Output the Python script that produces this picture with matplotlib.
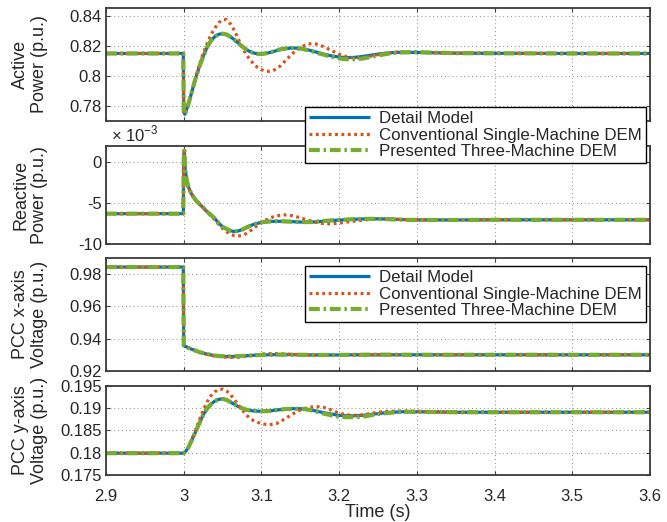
import matplotlib
matplotlib.use("Agg")
import matplotlib.pyplot as plt
from matplotlib.ticker import FixedLocator, FixedFormatter

plt.rcParams['font.family'] = ['Liberation Sans', 'DejaVu Sans']
plt.rcParams['axes.unicode_minus'] = False
plt.rcParams['mathtext.fontset'] = 'custom'
plt.rcParams['mathtext.rm'] = 'Liberation Sans'

labels = ["Detail Model", "Conventional Single-Machine DEM", "Presented Three-Machine DEM"]

# ---------- Panel 1: active power ----------
t1 = [2.9, 2.9995, 3.0, 3.0015, 3.005, 3.01, 3.015, 3.02, 3.025, 3.03, 3.035, 3.04, 3.045, 3.05,
      3.055, 3.06, 3.065, 3.07, 3.075, 3.08, 3.085, 3.09, 3.095, 3.1, 3.105, 3.11, 3.115, 3.12,
      3.125, 3.13, 3.14, 3.15, 3.16, 3.165, 3.17, 3.18, 3.19, 3.2, 3.21, 3.22, 3.23, 3.24, 3.25,
      3.26, 3.27, 3.28, 3.3, 3.32, 3.35, 3.4, 3.5, 3.6]
p_detail = [.815, .815, .7760, .7745, .7795, .7885, .7980, .8060, .8130, .8190, .8235, .8262, .8278, .8282,
            .8276, .8262, .8242, .8220, .8198, .8178, .8163, .8153, .8148, .8147, .8150, .8155, .8162, .8170,
            .8177, .8182, .8187, .8184, .8174, .8167, .8160, .8146, .8134, .8126, .8122, .8124, .8130, .8138, .8146,
            .8152, .8156, .8158, .8157, .8155, .8152, .8151, .8150, .8150]
p_conv = [.815, .815, .7760, .7745, .7797, .7890, .7985, .8070, .8150, .8215, .8275, .8318, .8355, .8374,
          .8376, .8348, .8305, .8250, .8192, .8148, .8110, .8080, .8057, .8042, .8033, .8031, .8036, .8049,
          .8070, .8097, .8150, .8190, .8213, .8216, .8213, .8196, .8170, .8145, .8127, .8120, .8122, .8132, .8143,
          .8152, .8158, .8160, .8158, .8155, .8152, .8151, .8150, .8150]
p_three = [.815, .815, .7760, .7745, .7795, .7885, .7980, .8060, .8130, .8190, .8235, .8262, .8278, .8282,
           .8276, .8262, .8242, .8220, .8198, .8178, .8163, .8153, .8148, .8147, .8150, .8156, .8163, .8171,
           .8178, .8183, .8187, .8183, .8172, .8164, .8156, .8142, .8128, .8117, .8111, .8111, .8116, .8126, .8137,
           .8146, .8153, .8157, .8158, .8156, .8152, .8151, .8150, .8150]

# ---------- Panel 2: reactive power (x 1e-3) ----------
t2 = [2.9, 2.9995, 3.0, 3.0008, 3.002, 3.004, 3.006, 3.008, 3.01, 3.015, 3.02, 3.025, 3.03, 3.035,
      3.04, 3.045, 3.05, 3.055, 3.06, 3.065, 3.07, 3.075, 3.08, 3.085, 3.09, 3.1, 3.11, 3.12, 3.13,
      3.14, 3.15, 3.16, 3.17, 3.18, 3.19, 3.2, 3.22, 3.24, 3.26, 3.28, 3.3, 3.35, 3.4, 3.5, 3.6]
q_detail = [-6.3, -6.3, 0.5, 1.4, -1.0, -2.3, -3.0, -3.5, -3.9, -4.6, -5.1, -5.55, -6.05, -6.45,
            -6.9, -7.45, -7.9, -8.15, -8.38, -8.48, -8.42, -8.25, -8.02, -7.8, -7.6, -7.36, -7.26, -7.23, -7.25,
            -7.28, -7.32, -7.34, -7.3, -7.22, -7.14, -7.08, -6.98, -6.92, -6.95, -7.02, -7.06, -7.07, -7.05, -7.05, -7.05]
q_conv = [-6.3, -6.3, 0.5, 1.4, -1.0, -2.3, -3.0, -3.5, -3.9, -4.6, -5.1, -5.6, -6.1, -6.55,
          -7.05, -7.6, -8.1, -8.5, -8.8, -8.98, -9.02, -8.95, -8.75, -8.45, -8.1, -7.36, -6.85, -6.55, -6.45,
          -6.55, -6.8, -7.1, -7.35, -7.52, -7.55, -7.45, -7.2, -7.0, -6.95, -7.0, -7.06, -7.07, -7.05, -7.05, -7.05]
q_three = [-6.3, -6.3, 0.5, 1.4, -1.0, -2.3, -3.0, -3.5, -3.9, -4.6, -5.1, -5.55, -6.05, -6.45,
           -6.9, -7.45, -7.9, -8.15, -8.38, -8.48, -8.42, -8.25, -8.02, -7.8, -7.6, -7.36, -7.25, -7.22, -7.24,
           -7.28, -7.32, -7.33, -7.28, -7.2, -7.12, -7.06, -6.97, -6.93, -6.97, -7.04, -7.07, -7.07, -7.05, -7.05, -7.05]

# ---------- Panel 3: PCC x-axis voltage ----------
t3 = [2.9, 2.9995, 3.0, 3.005, 3.01, 3.015, 3.02, 3.03, 3.04, 3.05, 3.06, 3.07, 3.08, 3.09, 3.1,
      3.11, 3.12, 3.13, 3.15, 3.17, 3.2, 3.22, 3.25, 3.3, 3.4, 3.5, 3.6]
vx_detail = [.9841, .9841, .9358, .9345, .9335, .9326, .9317, .9304, .9295, .9290, .9289, .9291, .9294, .9297, .9299,
             .9300, .9301, .9301, .9300, .9299, .9299, .9300, .9300, .9300, .9300, .9300, .9300]
vx_conv = [.9841, .9841, .9358, .9345, .9335, .9325, .9315, .9302, .9292, .9287, .9284, .9285, .9290, .9297, .9304,
           .9307, .9307, .9305, .9300, .9297, .9297, .9299, .9300, .9300, .9300, .9300, .9300]
vx_three = [.9841, .9841, .9358, .9345, .9335, .9326, .9317, .9304, .9295, .9291, .9290, .9291, .9294, .9297, .9299,
            .9300, .9301, .9301, .9300, .9299, .9299, .9300, .9301, .9300, .9300, .9300, .9300]

# ---------- Panel 4: PCC y-axis voltage ----------
t4 = [2.9, 3.0, 3.003, 3.006, 3.01, 3.015, 3.02, 3.025, 3.03, 3.035, 3.04, 3.045, 3.05, 3.055, 3.06,
      3.065, 3.07, 3.075, 3.08, 3.085, 3.09, 3.1, 3.11, 3.12, 3.13, 3.14, 3.15, 3.16, 3.17, 3.18, 3.19,
      3.2, 3.21, 3.22, 3.23, 3.24, 3.25, 3.26, 3.28, 3.3, 3.35, 3.4, 3.5, 3.6]
vy_detail = [.1799, .1799, .1804, .1812, .1827, .1846, .1866, .1885, .1899, .1909, .1916, .1920, .1921, .1919, .1914,
             .1909, .1904, .1900, .1897, .1895, .1894, .1893, .1894, .1896, .1898, .1899, .1899, .1897, .1894, .1890, .1887,
             .1884, .1883, .1883, .1884, .1886, .1888, .1890, .1892, .1892, .1891, .1891, .1891, .1891]
vy_conv = [.1799, .1799, .1804, .1812, .1828, .1850, .1873, .1895, .1914, .1928, .1937, .1942, .1943, .1939, .1931,
           .1920, .1908, .1897, .1886, .1878, .1872, .1865, .1863, .1866, .1876, .1887, .1896, .1902, .1904, .1902, .1896,
           .1889, .1885, .1884, .1885, .1888, .1891, .1893, .1894, .1893, .1891, .1891, .1891, .1891]
vy_three = [.1799, .1799, .1804, .1812, .1827, .1846, .1866, .1885, .1899, .1909, .1916, .1920, .1921, .1919, .1914,
            .1909, .1904, .1900, .1897, .1895, .1894, .1893, .1894, .1896, .1898, .1899, .1899, .1897, .1893, .1888, .1884,
            .1881, .1880, .1880, .1881, .1884, .1887, .1889, .1892, .1892, .1891, .1891, .1891, .1891]

x_ticks = [2.9, 3.0, 3.1, 3.2, 3.3, 3.4, 3.5, 3.6]
x_ticklabels = ["2.9", "3", "3.1", "3.2", "3.3", "3.4", "3.5", "3.6"]

panels = [
    dict(t=t1, ys=(p_detail, p_conv, p_three), ylim=(0.77, 0.8453),
         yt=[0.78, 0.8, 0.82, 0.84], ytl=["0.78", "0.8", "0.82", "0.84"],
         ylabel="Active\nPower (p.u.)"),
    dict(t=t2, ys=(q_detail, q_conv, q_three), ylim=(-10, 1.95),
         yt=[-10, -5, 0], ytl=["-10", "-5", "0"],
         ylabel="Reactive\nPower (p.u.)"),
    dict(t=t3, ys=(vx_detail, vx_conv, vx_three), ylim=(0.92, 0.9897),
         yt=[0.92, 0.94, 0.96, 0.98], ytl=["0.92", "0.94", "0.96", "0.98"],
         ylabel="PCC x-axis\nVoltage (p.u.)"),
    dict(t=t4, ys=(vy_detail, vy_conv, vy_three), ylim=(0.175, 0.195),
         yt=[0.175, 0.18, 0.185, 0.19, 0.195], ytl=["0.175", "0.18", "0.185", "0.19", "0.195"],
         ylabel="PCC y-axis\nVoltage (p.u.)"),
]

W, H = 667, 522
fig = plt.figure(figsize=(W / 100, H / 100), dpi=100)
boxes = [(8, 121), (146, 244), (258, 371), (386, 475)]
x0, x1 = 106, 650

c_blue, c_orange, c_green = "#0072BD", "#D95319", "#77AC30"
text_c = "#262626"

handles = None
for i, (pnl, (top, bot)) in enumerate(zip(panels, boxes)):
    ax = fig.add_axes([x0 / W, 1 - bot / H, (x1 - x0) / W, (bot - top) / H])
    t = pnl["t"]
    yd, yc, yp = pnl["ys"]
    h1, = ax.plot(t, yd, color=c_blue, lw=2.3, solid_capstyle='butt')
    h2, = ax.plot(t, yc, color=c_orange, lw=2.3, linestyle=(0, (0.9, 1.1)))
    h3, = ax.plot(t, yp, color=c_green, lw=3.0, linestyle=(0, (2.6, 0.9, 0.6, 0.9)))
    handles = (h1, h2, h3)
    ax.set_xlim(2.9, 3.6)
    ax.set_ylim(*pnl["ylim"])
    ax.xaxis.set_major_locator(FixedLocator(x_ticks))
    ax.yaxis.set_major_locator(FixedLocator(pnl["yt"]))
    ax.yaxis.set_major_formatter(FixedFormatter(pnl["ytl"]))
    ax.grid(True, linestyle=(0, (1, 3)), color="#8a8a8a", lw=0.7)
    ax.tick_params(direction='in', length=3, width=0.8, colors="#444444",
                   labelcolor=text_c, labelsize=12, top=True, right=True, pad=3)
    ax.tick_params(axis='x', pad=10)
    if i == 3:
        ax.xaxis.set_major_formatter(FixedFormatter(x_ticklabels))
        ax.set_xlabel("Time (s)", fontsize=13, color=text_c, labelpad=0)
    else:
        ax.tick_params(axis='x', labelbottom=False)
    for s in ax.spines.values():
        s.set_color("#3a3a3a")
        s.set_linewidth(1.3)
    ax.set_ylabel(pnl["ylabel"], fontsize=13, color=text_c, linespacing=1.15)
    ax.yaxis.set_label_coords((48 - x0) / (x1 - x0), 0.5)
    if i == 1:
        ax.text(0.01, 1.02, r"$\times$ 10$^{\mathrm{-3}}$", transform=ax.transAxes,
                fontsize=12, color=text_c, ha='left', va='bottom')

for top in (107, 266):
    leg = fig.legend(handles, labels, loc='upper left', bbox_to_anchor=(305 / W, 1 - top / H),
                     borderaxespad=0, fontsize=12.2, frameon=True, fancybox=False, framealpha=1,
                     edgecolor="#000000", handlelength=3.6, handletextpad=0.5, labelspacing=0.08,
                     borderpad=0.25)
    leg.get_frame().set_linewidth(1.0)
    for txt in leg.get_texts():
        txt.set_color(text_c)

fig.savefig("out.png", dpi=100)
